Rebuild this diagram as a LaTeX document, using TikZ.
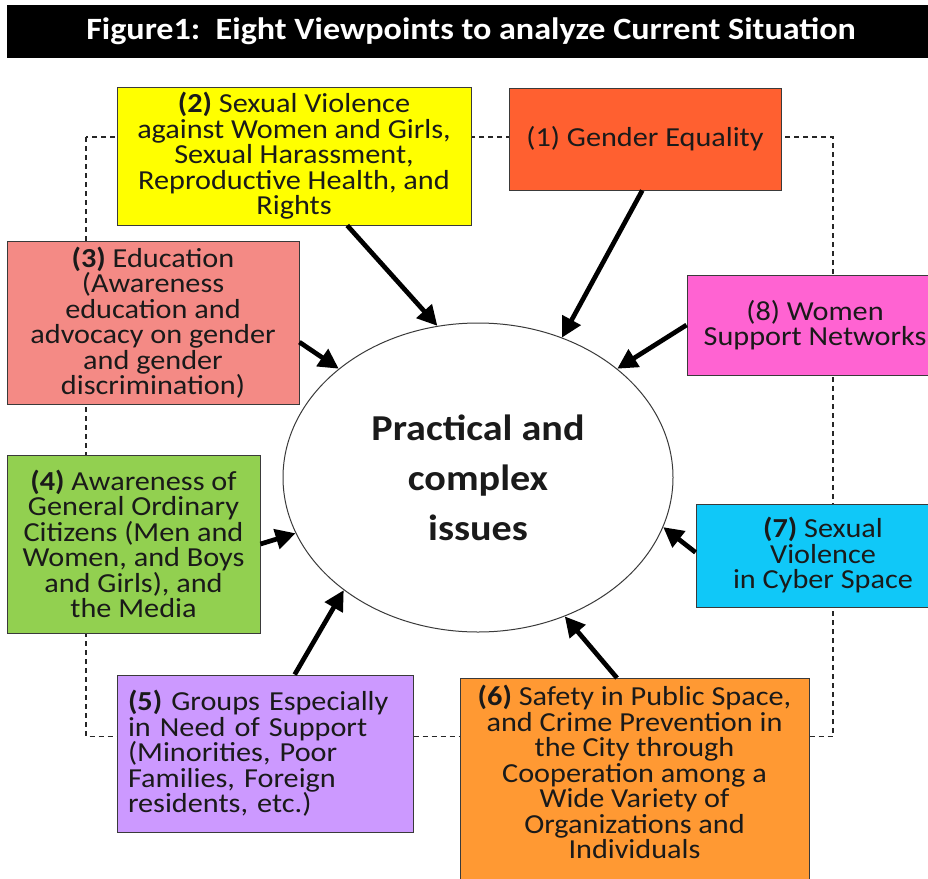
\documentclass[tikz,border=0pt]{standalone}
\usepackage{fontspec}
\setmainfont{Carlito}[FakeStretch=1.1]
\usetikzlibrary{arrows.meta,shapes.geometric,calc}

\definecolor{cOne}{HTML}{FF6030}
\definecolor{cTwo}{HTML}{FFFF00}
\definecolor{cThree}{HTML}{F48A85}
\definecolor{cFour}{HTML}{92D050}
\definecolor{cFive}{HTML}{CC99FF}
\definecolor{cSix}{HTML}{FF9933}
\definecolor{cSeven}{HTML}{10C8F8}
\definecolor{cEight}{HTML}{FF63D2}
\definecolor{edge}{HTML}{3A3A3A}
\definecolor{ink}{HTML}{1A1A1A}

\tikzset{
  titlebar/.style={fill=black, text=white, inner sep=0pt,
    font=\fontsize{31}{31}\selectfont\bfseries},
  viewbox/.style={draw=edge, line width=0.9pt, inner sep=0pt, align=center,
    text=ink, font=\fontsize{27.5}{25.5}\selectfont},
  hub/.style={ellipse, draw=edge, line width=1pt, fill=white, inner sep=0pt,
    align=center, text=ink, font=\fontsize{36.5}{50}\selectfont\bfseries},
  frameline/.style={draw=black!85, line width=1.3pt, dash pattern=on 5pt off 4pt},
  arr/.style={draw=black, line width=4.7pt,
    -{Triangle[length=20pt,width=20pt]}}
}

\begin{document}
\begin{tikzpicture}[x=1pt,y=-1pt]
\useasboundingbox (0,0) rectangle (928,878);
\clip (0,0) rectangle (928,878);
\fill[white] (0,0) rectangle (928,878);

% heading
\node[titlebar, minimum width=928, minimum height=53] (title) at (471,31.5)
  {Figure1:\ \ Eight Viewpoints to analyze Current Situation};

% dashed frame linking the eight viewpoints
\draw[frameline] (86,137) rectangle (833,736.5);

% the eight viewpoints
\node[viewbox, fill=cOne, minimum width=272, minimum height=102] (n1) at (645,139)
  {(1) Gender Equality};
\node[viewbox, fill=cTwo, minimum width=354, minimum height=138] (n2) at (294,156)
  {\textbf{(2)} Sexual Violence\\against Women and Girls,\\Sexual Harassment,\\Reproductive Health, and\\Rights};
\node[viewbox, fill=cThree, minimum width=292, minimum height=163] (n3) at (153,322.5)
  {\textbf{(3)} Education\\(Awareness\\education and\\advocacy on gender\\and gender\\discrimination)};
\node[viewbox, fill=cFour, minimum width=253, minimum height=178] (n4) at (133.5,544)
  {\textbf{(4)} Awareness of\\General Ordinary\\Citizens (Men and\\Women, and Boys\\and Girls), and\\the Media};
\node[viewbox, fill=cFive, minimum width=296, minimum height=157, text width=274, align=left] (n5) at (265,753.5)
  {\textbf{(5)} Groups Especially\\in Need of Support\\(Minorities, Poor\\Families, Foreign\\residents, etc.)};
\node[viewbox, fill=cSix, minimum width=349, inner ysep=7pt, text depth=40pt, anchor=north] (n6) at (634.5,678)
  {\textbf{(6)} Safety in Public Space,\\and Crime Prevention in\\the City through\\Cooperation among a\\Wide Variety of\\Organizations and\\Individuals};
\node[viewbox, fill=cSeven, minimum width=254, minimum height=103] (n7) at (823,555.5)
  {\textbf{(7)} Sexual\\Violence\\in Cyber Space};
\node[viewbox, fill=cEight, minimum width=256, minimum height=100] (n8) at (815,325)
  {(8) Women\\Support Networks};

% central issue
\node[hub, minimum width=390, minimum height=309] (c) at (478,477.5)
  {Practical and\\complex\\issues};

% arrows into the centre
\draw[arr] ($(n1.south west)!0.49!(n1.south east)$) -- (c.59);
\draw[arr] ($(n2.south west)!0.65!(n2.south east)$) -- (c.105);
\draw[arr] ($(n3.north east)!0.62!(n3.south east)$) -- (c.142);
\draw[arr] (n4.east) -- (c.197);
\draw[arr] ($(n5.north west)!0.60!(n5.north east)$) -- (c.220);
\draw[arr] ($(n6.north west)!0.45!(n6.north east)$) -- (c.302);
\draw[arr] ($(n7.north west)!0.47!(n7.south west)$) -- (c.345);
\draw[arr] (n8.west) -- (c.38);
\end{tikzpicture}
\end{document}
